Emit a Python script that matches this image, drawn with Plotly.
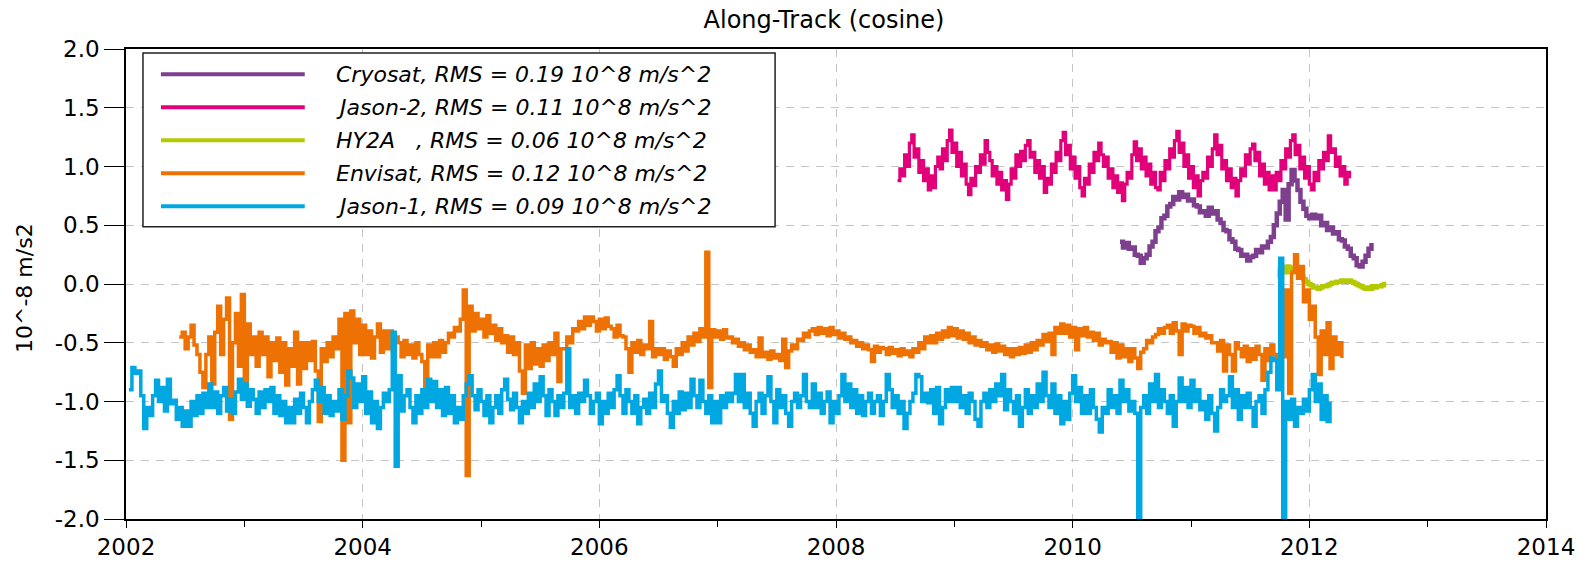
import numpy as np
import plotly.graph_objects as go

# ---------------- data (decimal years, values in 10^-8 m/s^2) ----------------
jason1_start, jason1_step = 2002.025, 0.025
jason1 = [
    -0.90, -0.71, -0.76,
    -0.74, -0.95, -1.23, -1.05,  -1.12, -0.95, -0.82, -1.0,  -0.88, -1.08, -0.81, -1.02,
    -0.99, -1.15, -1.05, -1.21,  -1.08, -1.21, -1.0, -1.12,  -0.95, -1.1, -0.93, -1.05,
    -0.85, -1.05, -0.92, -1.10,  -0.95, -0.88, -1.08, -0.98,  -1.1, -0.92, -0.81, -0.98,
    -0.85, -1.04, -0.90, -0.98,  -1.10, -0.92, -1.05, -0.90,  -1.0, -0.88, -1.1, -0.95,
    -1.12, -1.0, -1.18, -1.05,  -1.18, -0.98, -1.1, -0.93,  -1.05, -1.18, -1.0, -0.9,
    -0.82, -1.0, -0.88, -1.1,  -0.95, -1.12, -1.0, -1.08,  -0.9, -1.15, -0.95, -0.74,
    -0.8, -1.05, -0.85, -1.0,  -0.79, -1.1, -0.92, -1.18,  -1.0, -1.23, -1.05, -0.93,
    -1.0, -0.9, -0.41, -1.55,  -0.78, -1.08, -0.95, -0.9,  -1.05, -1.18, -0.95, -1.1,
    -0.9, -1.05, -0.81, -1.0,  -0.83, -1.05, -0.9, -1.12,  -0.88, -1.1, -0.95, -1.18,
    -1.05, -1.15, -0.95, -0.85,  -0.78, -0.95, -1.07, -0.9,  -1.0, -1.12, -0.95, -1.18,
    -1.05, -0.95, -1.1, -0.9,  -0.81, -0.98, -1.07, -0.93,  -1.05, -1.18, -1.0, -1.1,
    -0.93, -1.05, -0.85, -1.0,  -0.79, -0.95, -1.12, -0.9,  -1.0, -1.12, -0.95, -1.05,
    -0.93, -0.55, -1.05, -0.95,  -1.1, -0.93, -1.0, -0.82,  -0.95, -1.1, -1.0, -0.93,
    -1.19, -1.0, -1.1, -0.93,  -1.05, -0.9, -0.78, -0.95,  -1.1, -0.9, -1.0, -1.1,
    -0.95, -1.19, -1.05, -0.98,  -1.1, -0.93, -1.05, -0.85,  -0.74, -1.0, -0.95, -1.1,
    -1.22, -1.0, -1.1, -0.92,  -1.07, -0.93, -1.05, -0.81,  -0.95, -1.05, -0.82, -1.0,
    -1.1, -0.95, -1.18, -1.0,  -1.18, -0.95, -1.05, -0.93,  -1.0, -0.93, -0.77, -1.0,
    -0.77, -1.05, -0.93, -1.1,  -1.21, -1.0, -0.93, -1.1,  -0.95, -0.79, -1.0, -1.18,
    -0.9, -1.05, -0.95, -1.1,  -1.21, -1.0, -0.93, -1.05,  -0.95, -0.77, -1.0, -1.05,
    -0.85, -1.05, -0.93, -1.1,  -1.0, -0.92, -1.18, -1.0,  -1.1, -0.95, -0.77, -1.0,
    -0.85, -1.05, -0.9, -1.1,  -0.95, -1.12, -1.0, -0.93,  -1.1, -1.0, -0.95, -1.12,
    -1.0, -0.77, -0.9, -1.05,  -0.95, -1.1, -1.0, -1.23,  -1.1, -1.0, -0.93, -0.77,
    -0.79, -1.0, -0.93, -1.01,  -0.9, -1.1, -0.88, -1.19,  -1.05, -0.9, -1.0, -0.88,
    -1.0, -0.88, -1.05, -0.95,  -1.1, -0.93, -1.0, -1.15,  -1.21, -1.0, -0.93, -1.05,
    -0.9, -1.0, -0.85, -0.95,  -0.77, -1.07, -0.9, -1.0,  -1.1, -0.95, -1.21, -1.05,
    -0.9, -1.1, -0.95, -1.05,  -0.85, -1.0, -0.75, -0.95,  -1.05, -0.85, -1.1, -0.95,
    -1.19, -1.0, -1.15, -0.93,  -0.78, -1.0, -0.88, -1.1,  -0.95, -1.1, -0.9, -1.05,
    -1.15, -1.26, -1.05, -1.1,  -0.9, -1.05, -0.95, -1.1,  -0.82, -1.0, -0.9, -1.08,
    -1.0, -1.1, -2.3, -1.05,  -0.95, -1.1, -0.85, -1.0,  -0.77, -1.05, -0.9, -1.0,
    -1.1, -0.95, -1.21, -1.0,  -0.8, -1.0, -0.88, -1.05,  -0.82, -1.0, -0.9, -1.07,
    -1.0, -1.15, -0.95, -1.1,  -1.25, -1.05, -0.9, -1.0,  -0.95, -0.79, -1.05, -0.9,
    -1.15, -0.95, -1.05, -0.93,  -1.05, -1.21, -1.0, -0.95,  -1.1, -0.9, -0.75, -0.63,
    -0.65, -0.9, 0.22, -2.3,  -1.0, -1.15, -0.98, -1.21,  -1.05, -1.1, -0.98, -1.08,
    -0.9, -0.77, -1.0, -0.85,  -1.15, -0.95, -1.17, -1.0,
]

envisat_start, envisat_step = 2002.45, 0.025
envisat = [
    -0.45, -0.41,
    -0.55, -0.45, -0.35, -0.52,  -0.6, -0.75, -0.88, -0.6,  -0.45, -0.85, -0.41, -0.19,
    -0.6, -0.3, -0.12, -1.15,  -0.5, -0.25, -0.7, -0.09,  -0.85, -0.34, -0.6, -0.45,
    -0.7, -0.41, -0.6, -0.45,  -0.79, -0.5, -0.65, -0.46,  -0.75, -0.5, -0.86, -0.55,
    -0.7, -0.41, -0.85, -0.5,  -0.72, -0.5, -0.65, -0.49,  -0.74, -1.17, -0.55, -0.66,
    -0.5, -0.62, -0.45, -0.55,  -0.3, -1.5, -0.25, -1.18,  -0.23, -0.5, -0.3, -0.6,
    -0.35, -0.6, -0.4, -0.63,  -0.45, -0.34, -0.58, -0.4,  -0.55, -0.4, -0.57, -0.45,
    -0.5, -0.62, -0.48, -0.6,  -0.52, -0.63, -0.5, -0.6,  -0.66, -0.92, -0.52, -0.62,
    -0.5, -0.62, -0.48, -0.58,  -0.5, -0.42, -0.45, -0.37,  -0.4, -0.3, -0.05, -1.63,
    -0.19, -0.4, -0.25, -0.38,  -0.3, -0.45, -0.27, -0.42,  -0.35, -0.48, -0.38, -0.5,
    -0.44, -0.58, -0.45, -0.6,  -0.5, -0.74, -0.93, -0.52,  -0.72, -0.5, -0.68, -0.55,
    -0.7, -0.52, -0.65, -0.5,  -0.6, -0.42, -0.83, -0.55,  -0.55, -0.45, -0.5, -0.38,
    -0.4, -0.32, -0.38, -0.28,  -0.35, -0.28, -0.32, -0.4,  -0.3, -0.38, -0.29, -0.36,
    -0.38, -0.45, -0.35, -0.44,  -0.45, -0.55, -0.75, -0.5,  -0.58, -0.48, -0.6, -0.52,
    -0.55, -0.32, -0.62, -0.55,  -0.6, -0.55, -0.64, -0.57,  -0.62, -0.7, -0.55, -0.6,
    -0.5, -0.57, -0.45, -0.52,  -0.42, -0.49, -0.38, -0.45,  0.27, -0.88, -0.39, -0.45,
    -0.4, -0.47, -0.39, -0.46,  -0.45, -0.5, -0.47, -0.53,  -0.5, -0.56, -0.52, -0.58,
    -0.56, -0.62, -0.46, -0.62,  -0.58, -0.64, -0.57, -0.63,  -0.6, -0.65, -0.47, -0.71,
    -0.57, -0.52, -0.55, -0.47,  -0.48, -0.42, -0.45, -0.4,  -0.38, -0.43, -0.37, -0.42,
    -0.38, -0.44, -0.37, -0.43,  -0.4, -0.46, -0.42, -0.47,  -0.45, -0.5, -0.48, -0.53,
    -0.5, -0.55, -0.52, -0.56,  -0.66, -0.53, -0.58, -0.54,  -0.55, -0.6, -0.54, -0.59,
    -0.56, -0.61, -0.55, -0.6,  -0.57, -0.62, -0.55, -0.58,  -0.5, -0.55, -0.45, -0.5,
    -0.44, -0.5, -0.42, -0.47,  -0.4, -0.45, -0.37, -0.44,  -0.38, -0.46, -0.4, -0.47,
    -0.42, -0.5, -0.45, -0.52,  -0.48, -0.53, -0.5, -0.56,  -0.52, -0.58, -0.51, -0.57,
    -0.53, -0.6, -0.55, -0.62,  -0.55, -0.6, -0.54, -0.59,  -0.52, -0.58, -0.5, -0.56,
    -0.48, -0.52, -0.43, -0.49,  -0.42, -0.6, -0.37, -0.42,  -0.34, -0.42, -0.35, -0.45,
    -0.37, -0.56, -0.38, -0.44,  -0.37, -0.45, -0.41, -0.48,  -0.42, -0.52, -0.47, -0.5,
    -0.49, -0.58, -0.5, -0.63,  -0.52, -0.62, -0.55, -0.66,  -0.55, -0.63, -0.72, -0.58,
    -0.55, -0.48, -0.5, -0.45,  -0.43, -0.38, -0.42, -0.37,  -0.35, -0.42, -0.33, -0.4,
    -0.6, -0.34, -0.4, -0.35,  -0.36, -0.42, -0.37, -0.44,  -0.42, -0.46, -0.44, -0.5,
    -0.5, -0.57, -0.48, -0.74,  -0.52, -0.6, -0.74, -0.5,  -0.55, -0.62, -0.53, -0.66,
    -0.55, -0.64, -0.53, -0.6,  -0.82, -0.55, -0.65, -0.52,  -0.6, -0.66, -0.55, -0.62,
    -0.05, -0.93, 0.1, 0.25,  0.05, 0.15, -0.15, -0.05,  -0.3, -0.19, -0.45, -0.77,
    -0.4, -0.6, -0.33, -0.72,  -0.45, -0.6, -0.5, -0.63,
]

jason2_start, jason2_step = 2008.52, 0.02
jason2 = [
    0.88, 0.98, 0.92, 1.10, 1.0, 1.20, 1.27, 1.08, 1.15, 0.95, 1.05, 0.88, 0.98, 0.8, 0.92,
    0.82, 1.0, 1.08, 0.98, 1.15, 1.05, 1.22, 1.31, 1.12, 1.2, 1.0, 1.12, 0.92, 1.02, 0.85,
    0.76, 0.9, 0.84, 1.0, 0.95, 1.1, 1.02, 1.22, 1.12, 1.05, 0.92, 1.0, 0.85, 0.95, 0.8,
    0.88, 0.72, 0.85, 0.98, 0.9, 1.1, 1.0, 1.13, 1.05, 1.18, 1.22, 1.08, 1.12, 0.95, 1.05,
    0.9, 1.0, 0.78, 0.9, 0.85, 1.02, 0.95, 1.12, 1.05, 1.22, 1.29, 1.1, 1.18, 0.98, 1.08,
    0.9, 1.0, 0.82, 0.75, 0.9, 0.85, 1.02, 0.95, 1.12, 1.05, 1.2, 1.1, 1.0, 1.08, 0.9,
    0.98, 0.82, 0.92, 0.78, 0.86, 0.71, 0.85, 0.95, 0.9, 1.1, 1.21, 1.05, 1.15, 0.98, 1.08,
    0.92, 1.02, 0.85, 0.95, 0.82, 0.8, 0.95, 0.88, 1.05, 0.98, 1.15, 1.08, 1.22, 1.30, 1.12,
    1.2, 1.0, 1.1, 0.9, 1.0, 0.82, 0.92, 0.75, 0.88, 0.95, 0.9, 1.08, 1.0, 1.15, 1.27,
    1.1, 1.18, 0.98, 1.05, 0.88, 0.98, 0.82, 0.9, 0.75, 0.88, 0.98, 0.92, 1.1, 1.02, 1.15,
    1.19, 1.05, 1.12, 0.92, 1.02, 0.85, 0.95, 0.8, 0.92, 0.8, 0.95, 0.88, 1.05, 0.98, 1.15,
    1.08, 1.22, 1.27, 1.1, 1.18, 0.98, 1.08, 0.9, 1.0, 0.85, 0.8, 0.95, 0.88, 1.05, 0.98,
    1.12, 1.05, 1.26, 1.12, 1.15, 1.0, 1.08, 0.92, 1.0, 0.85, 0.95, 0.9,
]

cryosat_start, cryosat_step = 2010.40, 0.025
cryosat = [
    0.36, 0.31, 0.35, 0.30, 0.31, 0.25, 0.24, 0.18, 0.22, 0.25, 0.32, 0.36, 0.45, 0.48, 0.56,
    0.58, 0.66, 0.68, 0.74, 0.72, 0.78, 0.74, 0.76, 0.71, 0.72, 0.67, 0.66, 0.61, 0.62, 0.58,
    0.65, 0.60, 0.62, 0.55, 0.52, 0.46, 0.45, 0.38, 0.36, 0.30, 0.29, 0.24, 0.25, 0.20, 0.23,
    0.24, 0.29, 0.27, 0.32, 0.31, 0.36, 0.40, 0.50, 0.60, 0.70, 0.80, 0.55, 0.85, 0.97, 0.88,
    0.80, 0.70, 0.64, 0.58, 0.56, 0.59, 0.56, 0.58, 0.50, 0.52, 0.46, 0.48, 0.43, 0.44, 0.38,
    0.37, 0.32, 0.30, 0.24, 0.22, 0.16, 0.15, 0.19, 0.24, 0.30, 0.35,
]

hy2a_start, hy2a_step = 2011.73, 0.02
hy2a = [
    0.07, 0.12, 0.14, 0.10, 0.15, 0.14, 0.10, 0.13, 0.10, 0.08, 0.06, 0.04, 0.02, 0.0, -0.01,
    -0.03, -0.03, -0.04, -0.03, -0.02, -0.02, -0.01, 0.0, 0.01, 0.01, 0.02, 0.02, 0.03, 0.03,
    0.02, 0.03, 0.02, 0.01, 0.0, -0.01, -0.02, -0.03, -0.04, -0.03, -0.04, -0.02, -0.03,
    -0.02, -0.02, -0.01, 0.0, 0.0,
]

legend_labels = [
    "Cryosat, RMS = 0.19 10^8 m/s^2",
    "Jason-2, RMS = 0.11 10^8 m/s^2",
    "HY2A\u00a0\u00a0\u00a0, RMS = 0.06 10^8 m/s^2",
    "Envisat, RMS = 0.12 10^8 m/s^2",
    "Jason-1, RMS = 0.09 10^8 m/s^2",
]
legend_colors = ["#7D3F8E", "#E2007A", "#B5C900", "#EE7203", "#00A7E1"]

x_ticks = [2002, 2004, 2006, 2008, 2010, 2012, 2014]
y_ticks = [-2.0, -1.5, -1.0, -0.5, 0.0, 0.5, 1.0, 1.5, 2.0]

FONT = "DejaVu Sans"

def years(start, step, vals):
    return start + step * np.arange(len(vals))

series = [
    ("HY2A", hy2a_start, hy2a_step, hy2a, legend_colors[2], 4.5),
    ("Jason-2", jason2_start, jason2_step, jason2, legend_colors[1], 3.2),
    ("Cryosat", cryosat_start, cryosat_step, cryosat, legend_colors[0], 4.5),
    ("Envisat", envisat_start, envisat_step, envisat, legend_colors[3], 3.5),
    ("Jason-1", jason1_start, jason1_step, jason1, legend_colors[4], 3.5),
]

fig = go.Figure()
for name, s, st, vals, col, lw in series:
    fig.add_trace(go.Scatter(
        x=years(s, st, vals), y=vals, mode="lines", name=name,
        line=dict(color=col, width=lw, shape="hv"), showlegend=False,
    ))

W, H = 1587, 572
L, R, T, B = 126, 39, 49, 39

fig.update_layout(
    width=W, height=H,
    margin=dict(l=L, r=R, t=T, b=B),
    paper_bgcolor="white", plot_bgcolor="white",
    font=dict(family=FONT, size=23, color="black"),
    title=dict(text="Along-Track (cosine)", x=824 / W, xref="container", xanchor="center",
               y=1 - 20 / H, yref="container", yanchor="middle",
               font=dict(family=FONT, size=24, color="black")),
)

fig.update_xaxes(
    range=[2002, 2014], tickvals=x_ticks, ticktext=[str(v) for v in x_ticks],
    showline=True, linecolor="black", linewidth=1.5, mirror=True,
    ticks="outside", ticklen=7, tickwidth=1.2, tickcolor="black",
    minor=dict(dtick=1, tick0=2002, ticks="outside", ticklen=6, tickwidth=1.2,
               tickcolor="black", showgrid=False),
    showgrid=True, gridcolor="#c4c4c4", gridwidth=1.2, griddash="8px,7px",
    zeroline=False, tickfont=dict(family=FONT, size=23, color="black"),
)
fig.update_yaxes(
    range=[-2, 2], tickvals=y_ticks, ticktext=[f"{v:.1f}" for v in y_ticks],
    showline=True, linecolor="black", linewidth=1.5, mirror=True,
    ticks="outside", ticklen=20, tickwidth=1.2, tickcolor="black",
    showgrid=True, gridcolor="#c4c4c4", gridwidth=1.2, griddash="8px,7px",
    zeroline=False, tickfont=dict(family=FONT, size=23, color="black"),
)

def px_to_paper_x(px):
    return (px - L) / (W - L - R)

def py_to_paper_y(py):
    return (H - B - py) / (H - T - B)

# y-axis title
fig.add_annotation(text="10^-8 m/s2", textangle=-90, xref="paper", yref="paper",
                   x=px_to_paper_x(25), y=py_to_paper_y(295), xanchor="center", yanchor="middle",
                   showarrow=False, font=dict(family=FONT, size=22, color="black"))

# custom legend box
fig.add_shape(type="rect", xref="paper", yref="paper",
              x0=px_to_paper_x(143), x1=px_to_paper_x(776),
              y0=py_to_paper_y(232), y1=py_to_paper_y(53),
              line=dict(color="#222222", width=1.5), fillcolor="white", layer="above")
rows_py = [75, 109, 143, 177, 211]
for lab, col, py in zip(legend_labels, legend_colors, rows_py):
    fig.add_shape(type="line", xref="paper", yref="paper",
                  x0=px_to_paper_x(161), x1=px_to_paper_x(305),
                  y0=py_to_paper_y(py), y1=py_to_paper_y(py),
                  line=dict(color=col, width=4), layer="above")
    fig.add_annotation(text=lab, xref="paper", yref="paper",
                       x=px_to_paper_x(334), y=py_to_paper_y(py),
                       xanchor="left", yanchor="middle", showarrow=False,
                       font=dict(family=FONT, size=22, color="black", style="italic"))

fig.write_html("out.html")
